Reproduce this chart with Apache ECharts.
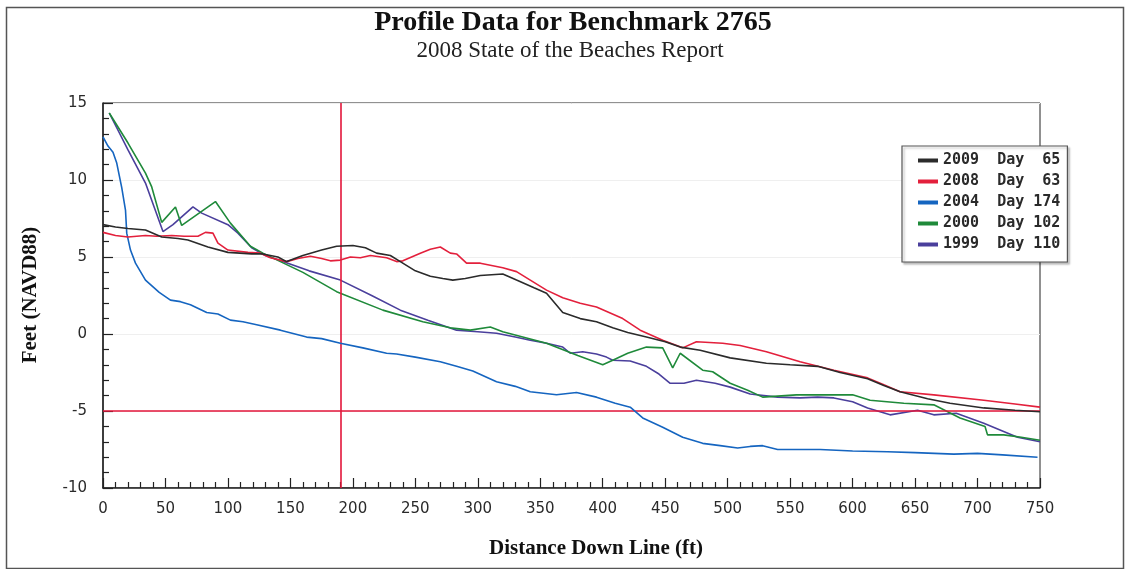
<!DOCTYPE html>
<html>
<head>
<meta charset="utf-8">
<script src="https://cdn.jsdelivr.net/npm/echarts@6/dist/echarts.min.js"></script>
<style>html,body{margin:0;padding:0;background:#fff}#c{width:1127px;height:569px}</style>
</head>
<body>
<div id="c"></div>
<script>
// ---- data (distance ft, elevation ft NAVD88) ----
const seriesNames = ['2009', '2008', '2004', '2000', '1999'];
const surveyDays = ['65', '63', '174', '102', '110'];
const yTicks = [-10, -5, 0, 5, 10, 15];
const xTicks = [0, 50, 100, 150, 200, 250, 300, 350, 400, 450, 500, 550, 600, 650, 700, 750];

const x2009 = [0,10,20,34,47,60,68,84,100,119,128,140,147,160,175,187,200,210,219,230,238,250,262,272,280,290,302,320,331,345,355,368,382,395,408,420,435,450,462,478,502,531,550,572,590,612,625,638,660,678,705,730,750];
const y2009 = [7.1,6.95,6.85,6.75,6.3,6.2,6.1,5.65,5.3,5.2,5.2,5.0,4.7,5.1,5.45,5.7,5.75,5.6,5.25,5.1,4.7,4.1,3.75,3.6,3.5,3.6,3.8,3.9,3.5,3.0,2.65,1.4,1.0,0.8,0.4,0.1,-0.2,-0.5,-0.85,-1.05,-1.55,-1.9,-2.0,-2.1,-2.5,-2.9,-3.35,-3.75,-4.2,-4.5,-4.8,-4.95,-5.05];

const x2008 = [0,10,20,34,43,55,65,76,82,88,92,100,116,126,134,147,156,166,175,182,190,198,206,214,227,235,240,254,262,270,278,283,291,302,320,331,342,355,368,382,395,416,430,448,464,475,496,510,531,558,585,612,625,638,665,705,730,750];
const y2008 = [6.6,6.4,6.3,6.4,6.35,6.4,6.35,6.35,6.6,6.55,5.9,5.45,5.3,5.25,4.95,4.7,4.9,5.05,4.9,4.75,4.8,5.0,4.95,5.1,4.95,4.7,4.75,5.25,5.5,5.65,5.25,5.2,4.6,4.6,4.3,4.05,3.5,2.85,2.35,2.0,1.75,1.0,0.25,-0.4,-0.9,-0.5,-0.6,-0.75,-1.15,-1.8,-2.35,-2.85,-3.3,-3.75,-3.95,-4.3,-4.55,-4.75];

const x2004 = [0,4,8,11,15,18,19,22,26,34,45,54,62,70,83,92,102,112,123,142,163,175,190,208,227,235,250,270,283,296,315,330,342,363,379,395,410,422,432,448,464,480,494,508,518,528,540,555,574,600,628,650,681,700,720,748];
const y2004 = [12.8,12.2,11.8,11.1,9.5,8.05,6.55,5.45,4.6,3.5,2.7,2.2,2.1,1.9,1.4,1.3,0.9,0.8,0.6,0.25,-0.2,-0.3,-0.6,-0.9,-1.25,-1.3,-1.5,-1.8,-2.1,-2.4,-3.1,-3.4,-3.75,-3.95,-3.8,-4.1,-4.5,-4.75,-5.45,-6.05,-6.7,-7.1,-7.25,-7.4,-7.3,-7.25,-7.5,-7.5,-7.5,-7.6,-7.65,-7.7,-7.8,-7.75,-7.85,-8.0];

const x2000 = [5,20,34,39,47,58,63,90,102,118,128,142,160,187,190,224,256,278,294,310,320,355,380,400,408,420,435,448,456,462,480,488,502,516,528,555,582,600,614,641,665,686,706,708,721,735,750];
const y2000 = [14.35,12.4,10.45,9.55,7.25,8.25,7.05,8.6,7.2,5.7,5.25,4.7,4.0,2.75,2.65,1.55,0.8,0.4,0.25,0.45,0.15,-0.6,-1.4,-2.0,-1.7,-1.25,-0.85,-0.9,-2.2,-1.25,-2.35,-2.45,-3.2,-3.65,-4.1,-3.95,-3.95,-3.95,-4.3,-4.5,-4.6,-5.45,-6.0,-6.55,-6.55,-6.7,-6.9];

const x1999 = [5,20,34,48,56,72,79,100,108,119,130,144,165,190,215,238,260,283,300,315,330,342,355,368,374,384,395,403,408,422,435,445,454,465,475,490,502,518,540,558,572,585,600,612,630,652,665,683,705,732,750];
const y1999 = [14.35,11.95,9.8,6.65,7.1,8.25,7.85,7.1,6.55,5.6,5.1,4.7,4.1,3.5,2.5,1.55,0.9,0.25,0.15,0.05,-0.2,-0.4,-0.6,-0.85,-1.25,-1.15,-1.3,-1.5,-1.7,-1.75,-2.1,-2.6,-3.2,-3.2,-3.0,-3.2,-3.45,-3.9,-4.1,-4.15,-4.1,-4.15,-4.4,-4.8,-5.25,-4.95,-5.25,-5.15,-5.8,-6.7,-7.0];

const refX = 190;   // vertical reference line
const refY = -5;    // horizontal reference line

const xsAll = [x2009, x2008, x2004, x2000, x1999];
const ysAll = [y2009, y2008, y2004, y2000, y1999];
const colors = ['#2b2b2b', '#e3203c', '#1565c0', '#1f8a3a', '#4a3f9c'];

const chart = echarts.init(document.getElementById('c'), null, {renderer: 'canvas'});

const series = seriesNames.map((n, k) => ({
  name: n,
  type: 'line',
  showSymbol: false,
  symbol: 'none',
  animation: false,
  lineStyle: {color: colors[k], width: 1.6},
  itemStyle: {color: colors[k]},
  data: xsAll[k].map((x, i) => [x, ysAll[k][i]]),
  z: 3 + (4 - k)
}));
series.push({
  name: 'ref',
  type: 'line',
  data: [],
  animation: false,
  markLine: {
    silent: true,
    symbol: 'none',
    label: {show: false},
    lineStyle: {color: '#e3163a', width: 1.6, type: 'solid'},
    data: [{xAxis: refX}, {yAxis: refY}],
    animation: false
  },
  z: 2
});

const dayMap = {};
seriesNames.forEach((n, i) => { dayMap[n] = n + '  Day ' + surveyDays[i].padStart(3, ' '); });

chart.setOption({
  animation: false,
  backgroundColor: '#fff',
  grid: {left: 103, right: 87, top: 103, bottom: 81, show: true, borderColor: '#222', borderWidth: 1, backgroundColor: 'transparent'},
  xAxis: {
    type: 'value', min: 0, max: 750, interval: 50,
    axisLine: {show: true, onZero: false, lineStyle: {color: '#222', width: 1.5}},
    axisTick: {show: true, inside: true, length: 10, lineStyle: {color: '#222', width: 1.2}},
    minorTick: {show: true, splitNumber: 5, length: 6, lineStyle: {color: '#222', width: 1.2}},
    splitLine: {show: false},
    axisLabel: {
      margin: 14, fontFamily: 'DejaVu Sans', fontSize: 15, color: '#2a2a2a',
      formatter: v => xTicks.includes(v) ? String(v) : ''
    }
  },
  yAxis: {
    type: 'value', min: -10, max: 15, interval: 5,
    axisLine: {show: true, onZero: false, lineStyle: {color: '#222', width: 1.5}},
    axisTick: {show: true, inside: true, length: 10, lineStyle: {color: '#222', width: 1.2}},
    minorTick: {show: true, splitNumber: 5, length: 6, lineStyle: {color: '#222', width: 1.2}},
    splitLine: {show: true, lineStyle: {color: '#efefef', width: 1}},
    axisLabel: {
      margin: 16, fontFamily: 'DejaVu Sans', fontSize: 15, color: '#2a2a2a',
      formatter: v => yTicks.includes(v) ? String(v) : ''
    }
  },
  legend: {
    data: seriesNames,
    orient: 'vertical',
    left: 902, top: 146,
    padding: [7, 7, 10, 16],
    itemGap: 6,
    itemWidth: 20, itemHeight: 4,
    icon: 'rect',
    backgroundColor: '#fff',
    borderColor: '#555', borderWidth: 1.2,
    shadowColor: 'rgba(0,0,0,0.25)', shadowOffsetX: 2, shadowOffsetY: 2, shadowBlur: 2,
    formatter: n => dayMap[n],
    textStyle: {fontFamily: 'DejaVu Sans Mono', fontWeight: 'bold', fontSize: 15, color: '#2a2a2a', lineHeight: 15},
    selectedMode: false
  },
  graphic: [
    {type: 'rect', left: 4, top: 5, shape: {width: 1117, height: 561}, style: {fill: 'none', stroke: '#555', lineWidth: 1.5}, silent: true, z: -1},
    {type: 'text', x: 573, y: 23, style: {text: 'Profile Data for Benchmark 2765', fontFamily: 'Liberation Serif', fontWeight: 'bold', fontSize: 28, fill: '#111', align: 'center', verticalAlign: 'middle'}},
    {type: 'text', x: 570, y: 51, style: {text: '2008 State of the Beaches Report', fontFamily: 'Liberation Serif', fontSize: 23, fill: '#222', align: 'center', verticalAlign: 'middle'}},
    {type: 'text', x: 596, y: 549, style: {text: 'Distance Down Line (ft)', fontFamily: 'Liberation Serif', fontWeight: 'bold', fontSize: 21, fill: '#111', align: 'center', verticalAlign: 'middle'}},
    {type: 'text', x: 31, y: 295, rotation: Math.PI / 2, style: {text: 'Feet (NAVD88)', fontFamily: 'Liberation Serif', fontWeight: 'bold', fontSize: 21, fill: '#111', align: 'center', verticalAlign: 'middle'}}
  ],
  series: series
});
</script>
</body>
</html>
